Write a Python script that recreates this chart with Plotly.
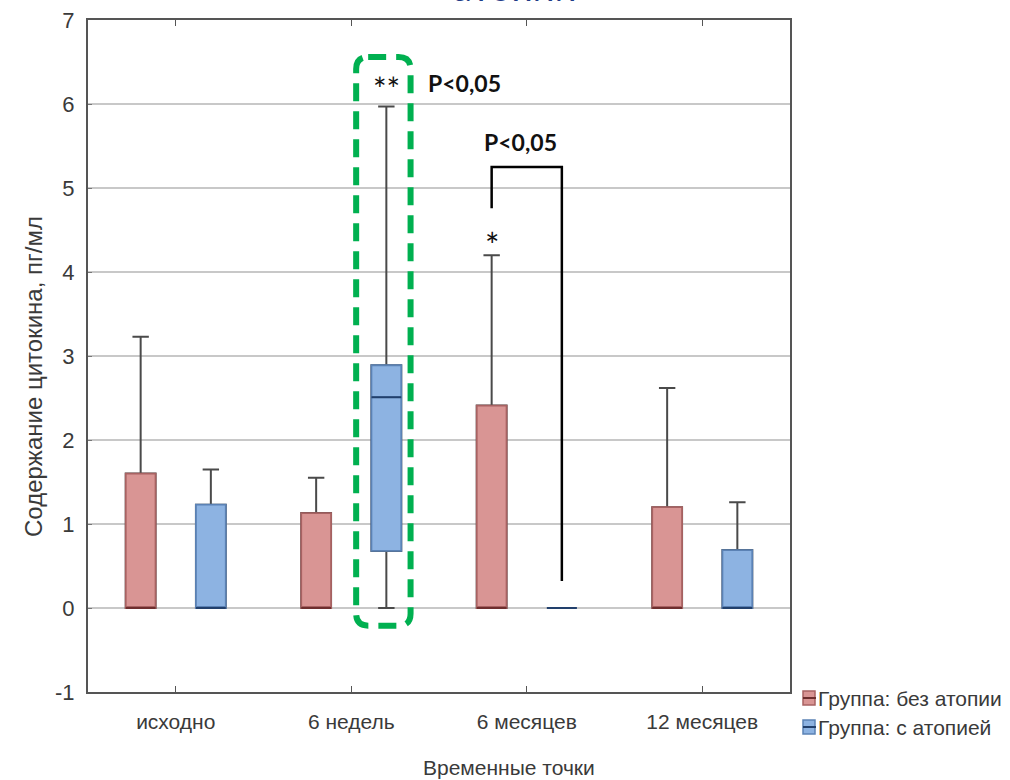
import plotly.graph_objects as go

# ---- data ----
categories = ["исходно", "6 недель", "6 месяцев", "12 месяцев"]
groups = ["Группа: без атопии", "Группа: с атопией"]

# group 1: без атопии
g1_lower = [0, 0, 0, 0]
g1_q1 = [0, 0, 0, 0]
g1_median = [0, 0, 0, 0]
g1_q3 = [1.60, 1.13, 2.41, 1.20]
g1_upper = [3.23, 1.55, 4.20, 2.62]

# group 2: с атопией
g2_lower = [0, 0, 0, 0]
g2_q1 = [0, 0.68, 0, 0]
g2_median = [0, 2.51, 0, 0]
g2_q3 = [1.23, 2.89, 0, 0.69]
g2_upper = [1.65, 5.97, 0, 1.26]

y_tickvals = [-1, 0, 1, 2, 3, 4, 5, 6, 7]
y_ticktext = ["-1", "0", "1", "2", "3", "4", "5", "6", "7"]

# ---- styling ----
FONT = "Liberation Sans, Arial, sans-serif"
BOLD = "Lato, Open Sans, sans-serif"
fills = ["#D99594", "#8DB3E2"]
borders = ["#A86262", "#5B82B5"]
medians = ["#6E2E2E", "#22406C"]
WHISKER = "#4a4a4a"
TXT = "#3a3a3a"
OFF = [-0.2, 0.2]
BW = 0.17

# plot-area geometry in page pixels (for paper placement helpers)
L, R, T, B = 88, 790, 20, 692
def px(xp):
    return (xp - L) / (R - L)
def py(yp):
    return (B - yp) / (B - T)

cat_pos = [i + 0.5 for i in range(len(categories))]

fig = go.Figure()
series = [
    (g1_lower, g1_q1, g1_median, g1_q3, g1_upper),
    (g2_lower, g2_q1, g2_median, g2_q3, g2_upper),
]
for gi, (lo, q1, med, q3, up) in enumerate(series):
    xs = [c + OFF[gi] for c in cat_pos]
    # whiskers (gray)
    fig.add_trace(go.Box(
        x=xs, q1=q1, median=med, q3=q3, lowerfence=lo, upperfence=up,
        width=BW, whiskerwidth=0.55, fillcolor="rgba(0,0,0,0)",
        line=dict(color=WHISKER, width=2), showlegend=False, hoverinfo="skip",
    ))
    # coloured box on top
    fig.add_trace(go.Box(
        x=xs, q1=q1, median=med, q3=q3, lowerfence=q1, upperfence=q3,
        width=BW, whiskerwidth=0, fillcolor=fills[gi],
        line=dict(color=borders[gi], width=1.8), name=groups[gi], showlegend=False,
    ))
    # darker median line
    fig.add_trace(go.Box(
        x=xs, q1=med, median=med, q3=med, lowerfence=med, upperfence=med,
        width=BW, whiskerwidth=0, fillcolor="rgba(0,0,0,0)",
        line=dict(color=medians[gi], width=2), showlegend=False, hoverinfo="skip",
    ))

# green dashed rounded rectangle around 6 недель / с атопией
PX_X = (R - L) / 4.0
PX_Y = (B - T) / 8.0
x0, x1 = 1.528, 1.838
y0, y1 = -0.21, 6.56
rx, ry = 12 / PX_X, 12 / PX_Y
path = (f"M {x0+rx},{y1} L {x1-rx},{y1} Q {x1},{y1} {x1},{y1-ry} "
        f"L {x1},{y0+ry} Q {x1},{y0} {x1-rx},{y0} L {x0+rx},{y0} "
        f"Q {x0},{y0} {x0},{y0+ry} L {x0},{y1-ry} Q {x0},{y1} {x0+rx},{y1} Z")
fig.add_shape(type="path", path=path, xref="x", yref="y",
              line=dict(color="#00B050", width=6, dash="18px,10px"))

# significance bracket for 6 месяцев
bx0, bx1 = 2.5 + OFF[0], 2.5 + OFF[1]
fig.add_shape(type="path",
              path=f"M {bx0},4.76 L {bx0},5.25 L {bx1},5.25 L {bx1},0.32",
              xref="x", yref="y", line=dict(color="black", width=2.5))

fig.add_annotation(x=1.5 + OFF[1], y=6.18, text="**", showarrow=False,
                   font=dict(family=BOLD, size=32, color="#111"))
fig.add_annotation(x=2.148, y=6.25, text="<b>P&lt;0,05</b>", showarrow=False,
                   font=dict(family=BOLD, size=23, color="#111"))
fig.add_annotation(x=2.462, y=5.55, text="<b>P&lt;0,05</b>", showarrow=False,
                   font=dict(family=BOLD, size=23, color="#111"))
fig.add_annotation(x=bx0, y=4.33, text="*", showarrow=False,
                   font=dict(family=BOLD, size=34, color="#111"))

# cut-off title at the very top (as in the reference)
fig.add_annotation(xref="paper", yref="paper", x=px(515), y=py(11),
                   xanchor="center", yanchor="bottom", text="атопии", showarrow=False,
                   font=dict(family=BOLD, size=38, color="#1F3C88"))

# axis titles
fig.add_annotation(xref="paper", yref="paper", x=px(509), y=py(767),
                   xanchor="center", yanchor="middle", text="Временные точки",
                   showarrow=False, font=dict(family=FONT, size=21, color=TXT))
fig.add_annotation(xref="paper", yref="paper", x=px(33), y=py(377),
                   xanchor="center", yanchor="middle", textangle=-90,
                   text="Содержание цитокина, пг/мл",
                   showarrow=False, font=dict(family=FONT, size=24, color=TXT))

# legend (drawn beside the plot area)
leg_y = [698, 727]
for gi, name in enumerate(groups):
    yc = leg_y[gi]
    fig.add_shape(type="rect", xref="paper", yref="paper",
                  x0=px(803), x1=px(815), y0=py(yc + 7), y1=py(yc - 7),
                  fillcolor=fills[gi], line=dict(color=borders[gi], width=1.5))
    fig.add_shape(type="line", xref="paper", yref="paper",
                  x0=px(803), x1=px(816), y0=py(yc), y1=py(yc),
                  line=dict(color=medians[gi], width=2))
    fig.add_annotation(xref="paper", yref="paper", x=px(816), y=py(yc),
                       xanchor="left", yanchor="middle", text=name, showarrow=False,
                       font=dict(family=FONT, size=21, color=TXT))

fig.update_layout(
    width=1010, height=780,
    margin=dict(l=L, r=1010 - R, t=T, b=780 - B, autoexpand=False),
    paper_bgcolor="white", plot_bgcolor="white",
    boxmode="overlay", showlegend=False,
    font=dict(family=FONT, size=21, color=TXT),
    xaxis=dict(range=[0, 4], tickvals=cat_pos, ticktext=categories,
               showgrid=False, zeroline=False, showline=True, linecolor="#555",
               linewidth=2, mirror="ticks", ticks="inside", ticklen=6,
               tickcolor="#555", ticklabelstandoff=10,
               tickfont=dict(family=FONT, size=21, color=TXT)),
    yaxis=dict(range=[-1, 7], tickvals=y_tickvals, ticktext=y_ticktext,
               showgrid=True, gridcolor="#C8C8C8", gridwidth=1.5, zeroline=False,
               showline=True, linecolor="#555", linewidth=2, mirror=True,
               ticks="inside", ticklen=4, tickcolor="#777", ticklabelstandoff=7,
               tickfont=dict(family=FONT, size=22, color=TXT)),
)

fig.write_html("out.html")
